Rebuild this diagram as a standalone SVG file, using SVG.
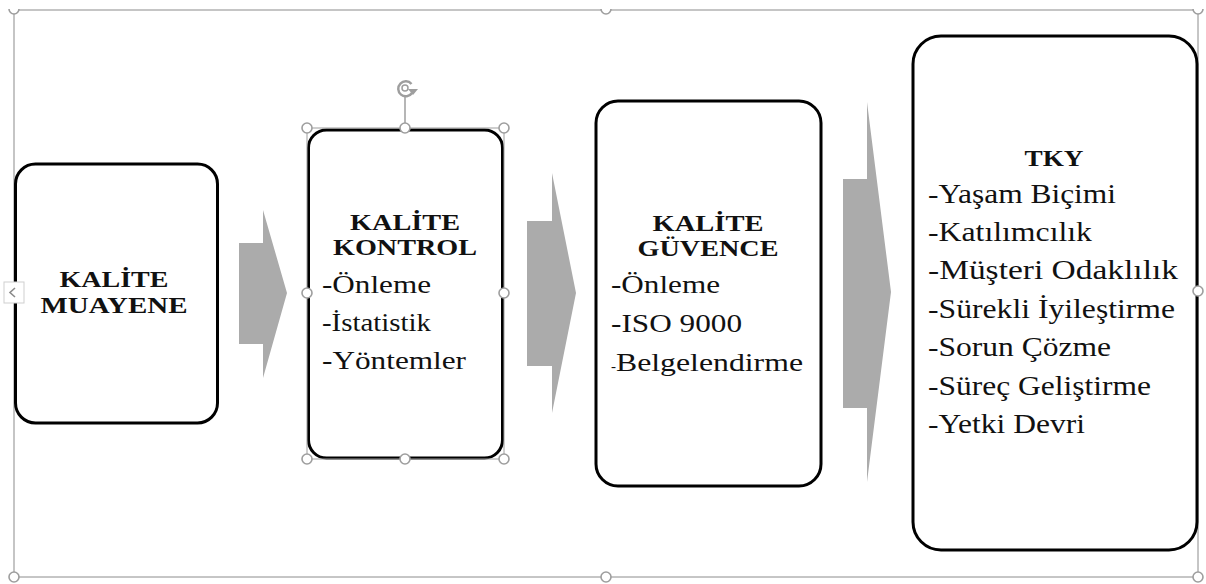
<svg xmlns="http://www.w3.org/2000/svg" width="1206" height="584" viewBox="0 0 1206 584">
  <style>
    .box { fill: #ffffff; stroke: #000000; stroke-width: 3; }
    .arrow { fill: #ababab; stroke: none; }
    .frame { fill: none; stroke: #b3b3b3; stroke-width: 1.5; }
    .handle { fill: #ffffff; stroke: #9e9e9e; stroke-width: 1.6; }
    .title { font-family: "Liberation Serif", "Times New Roman", serif; font-weight: bold; font-size: 23px; fill: #111111; text-anchor: middle; }
    .item { font-family: "Liberation Serif", "Times New Roman", serif; font-size: 25px; fill: #111111; }
    .item-lg { font-family: "Liberation Serif", "Times New Roman", serif; font-size: 27px; fill: #111111; }
  </style>

  <rect width="1206" height="584" fill="#ffffff"/>

  <!-- drawing canvas selection frame -->
  <g id="canvas-frame">
    <rect class="frame" x="14" y="10" width="1184" height="567"/>
  </g>

  <!-- process arrows -->
  <g id="connectors">
    <polygon class="arrow" points="239,243 263,243 263,210 287,293 263,378 263,344 239,344"/>
    <polygon class="arrow" points="527,221 552,221 552,173 576,293 552,413 552,366 527,366"/>
    <polygon class="arrow" points="843,179 867,179 867,102 891,292 867,482 867,408 843,408"/>
  </g>

  <g id="node-muayene">
    <rect class="box" x="15.5" y="164" width="202" height="259" rx="20"/>
    <text class="title" x="114" y="287" textLength="109" lengthAdjust="spacingAndGlyphs">KALİTE</text>
    <text class="title" x="114" y="313" textLength="147" lengthAdjust="spacingAndGlyphs">MUAYENE</text>
  </g>

  <g id="node-kontrol">
    <rect class="box" x="308.5" y="130" width="194" height="328" rx="18"/>
    <text class="title" x="405" y="230" textLength="110" lengthAdjust="spacingAndGlyphs">KALİTE</text>
    <text class="title" x="405" y="255" textLength="144" lengthAdjust="spacingAndGlyphs">KONTROL</text>
    <text class="item" x="322" y="293" textLength="109" lengthAdjust="spacingAndGlyphs">-Önleme</text>
    <text class="item" x="322" y="331" textLength="109" lengthAdjust="spacingAndGlyphs">-İstatistik</text>
    <text class="item" x="322" y="369" textLength="144" lengthAdjust="spacingAndGlyphs">-Yöntemler</text>
  </g>

  <g id="node-guvence">
    <rect class="box" x="596" y="101" width="225" height="385" rx="22"/>
    <text class="title" x="708" y="231" textLength="111" lengthAdjust="spacingAndGlyphs">KALİTE</text>
    <text class="title" x="708" y="256" textLength="141" lengthAdjust="spacingAndGlyphs">GÜVENCE</text>
    <text class="item" x="611" y="293" textLength="109" lengthAdjust="spacingAndGlyphs">-Önleme</text>
    <text class="item" x="611" y="332" textLength="131" lengthAdjust="spacingAndGlyphs">-ISO 9000</text>
    <text class="item" x="611" y="371"><tspan font-size="15">-</tspan><tspan textLength="187" lengthAdjust="spacingAndGlyphs">Belgelendirme</tspan></text>
  </g>

  <g id="node-tky">
    <rect class="box" x="913" y="36" width="284" height="514" rx="28"/>
    <text class="title" x="1054" y="166" textLength="59" lengthAdjust="spacingAndGlyphs">TKY</text>
    <text class="item-lg" x="928" y="203" textLength="188" lengthAdjust="spacingAndGlyphs">-Yaşam Biçimi</text>
    <text class="item-lg" x="928" y="241" textLength="164" lengthAdjust="spacingAndGlyphs">-Katılımcılık</text>
    <text class="item-lg" x="928" y="279" textLength="250" lengthAdjust="spacingAndGlyphs">-Müşteri Odaklılık</text>
    <text class="item-lg" x="928" y="318" textLength="247" lengthAdjust="spacingAndGlyphs">-Sürekli İyileştirme</text>
    <text class="item-lg" x="928" y="356" textLength="183" lengthAdjust="spacingAndGlyphs">-Sorun Çözme</text>
    <text class="item-lg" x="928" y="395" textLength="223" lengthAdjust="spacingAndGlyphs">-Süreç Geliştirme</text>
    <text class="item-lg" x="928" y="433" textLength="157" lengthAdjust="spacingAndGlyphs">-Yetki Devri</text>
  </g>

  <!-- selection outline and handles on the selected shape -->
  <g id="selection">
    <rect x="307" y="128" width="197" height="331" fill="none" stroke="#9e9e9e" stroke-width="1"/>
    <line x1="405" y1="97" x2="405" y2="123" stroke="#9e9e9e" stroke-width="1.5"/>
    <path d="M 411.5 84 A 7.5 7.5 0 1 0 412 93" fill="none" stroke="#9e9e9e" stroke-width="2.5"/>
    <circle cx="405" cy="88" r="3" fill="none" stroke="#9e9e9e" stroke-width="1.5"/>
    <polygon points="408,89 418,89 413,95" fill="#9e9e9e"/>
    <circle class="handle" cx="307" cy="128" r="5"/>
    <circle class="handle" cx="405" cy="128" r="5"/>
    <circle class="handle" cx="504" cy="128" r="5"/>
    <circle class="handle" cx="307" cy="293" r="5"/>
    <circle class="handle" cx="504" cy="293" r="5"/>
    <circle class="handle" cx="307" cy="459" r="5"/>
    <circle class="handle" cx="405" cy="459" r="5"/>
    <circle class="handle" cx="504" cy="459" r="5"/>
  </g>

  <!-- canvas handles; the top row shows only its lower halves -->
  <g id="canvas-handles">
    <path class="handle" d="M 9 9 A 5 5 0 0 0 19 9"/>
    <path class="handle" d="M 601 9 A 5 5 0 0 0 611 9"/>
    <path class="handle" d="M 1193 9 A 5 5 0 0 0 1203 9"/>
    <circle class="handle" cx="1198" cy="291" r="5"/>
    <circle class="handle" cx="1198" cy="577" r="5"/>
    <circle class="handle" cx="606" cy="577" r="5"/>
    <circle class="handle" cx="14" cy="577" r="5"/>
    <rect x="4" y="282" width="20" height="21" fill="#ffffff" stroke="#cfcfcf" stroke-width="1"/>
    <polyline points="15,288 10,292.5 15,297" fill="none" stroke="#8a8a8a" stroke-width="1.6"/>
  </g>
</svg>
